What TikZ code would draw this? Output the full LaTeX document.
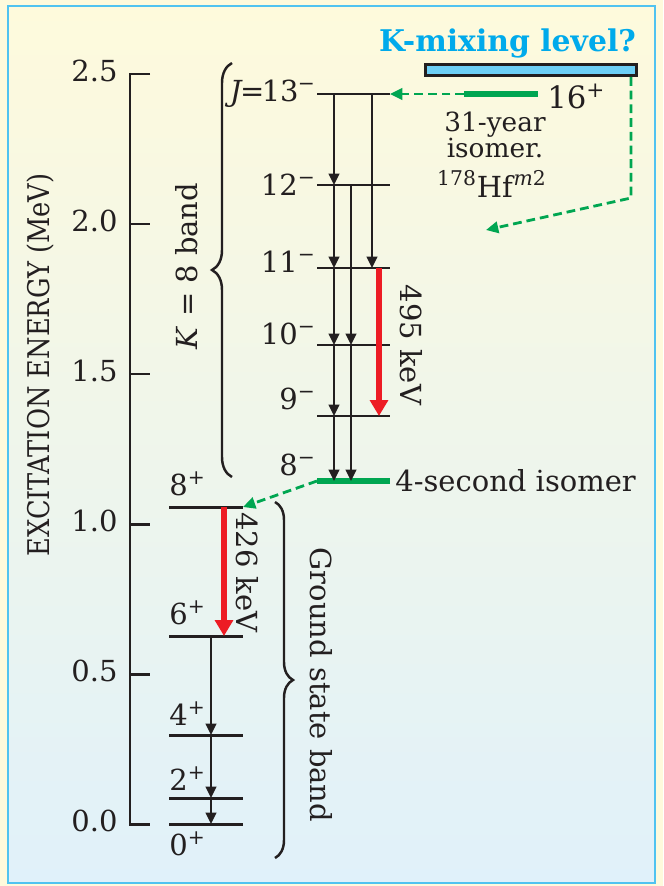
\documentclass[tikz,border=0pt]{standalone}
\usepackage{fontspec}
\usepackage{graphicx}
\setmainfont{DejaVu Serif}
\usetikzlibrary{arrows.meta,decorations.pathreplacing,calc}

\definecolor{hfink}{RGB}{35,31,32}
\definecolor{hfred}{RGB}{237,28,36}
\definecolor{hfgreen}{RGB}{0,166,81}
\definecolor{hfcyan}{RGB}{0,170,235}
\definecolor{hfbar}{RGB}{109,207,246}
\definecolor{hfframe}{RGB}{80,195,240}
\definecolor{bgtop}{RGB}{254,250,220}
\definecolor{bgbot}{RGB}{224,241,250}

\tikzset{
  lbl/.style={font=\fontsize{16.5}{19}\selectfont,inner sep=0pt,text=hfink},
  ticklbl/.style={lbl,font=\fontsize{16.5}{19}\selectfont},
  axis/.style={hfink,line width=1.7pt},
  level/.style={hfink,line width=1.7pt},
  isolevel/.style={hfgreen,line width=3.4pt},
  gam/.style={hfink,line width=1.4pt,-{Triangle[length=6.5pt,width=6pt]}},
  redgam/.style={hfred,line width=3.4pt,-{Triangle[length=9pt,width=10pt]}},
  isoarrow/.style={hfgreen,line width=1.6pt,dash pattern=on 5pt off 2.8pt,-{Triangle[length=7pt,width=6.5pt]}},
  kbar/.style={draw=hfink,fill=hfbar,line width=1.7pt,minimum width=4.22cm,minimum height=0.22cm,inner sep=0pt},
  bandbrace/.style={hfink,line width=1.4pt,decorate,decoration={brace,amplitude=#1}}
}

\begin{document}
\begin{tikzpicture}[x=0.02cm,y=-0.02cm]
  \useasboundingbox (0,0) rectangle (663,886);
  % background and frame
  \fill[bgtop] (0,0) rectangle (663,886);
  \shade[top color=bgtop,bottom color=bgbot] (8,6) rectangle (655,883);
  \draw[hfframe,line width=1.6pt] (8,6) rectangle (655,883);

  % energy axis
  \draw[axis] (150,74) -- (130,74) -- (130,824) -- (150,824);
  \foreach \e/\y [count=\i] in {0.0/824,0.5/674,1.0/524,1.5/374,2.0/224,2.5/74} {
    \draw[axis] (130,\y) -- (150,\y);
    \node[ticklbl] (tk\i) at (94.5,\y-3) {\e};
  }
  \node[lbl,font=\fontsize{17}{19}\selectfont,rotate=90] (ylab) at (40.5,365) {\scalebox{0.86}[1]{EXCITATION ENERGY (MeV)}};

  % columns of the transitions
  \coordinate (cA) at (334,0);
  \coordinate (cB) at (351,0);
  \coordinate (cC) at (372,0);
  \coordinate (cR) at (379,0);
  \coordinate (cG) at (211,0);
  \coordinate (cGR) at (224,0);

  % K = 8 band
  \foreach \j/\y in {13/94,12/185,11/268,10/345,9/416}
    \draw[level] (317,\y) coordinate (k\j) -- (390,\y) coordinate (kr\j);
  \draw[isolevel] (317,481) coordinate (k8) -- (390,481) coordinate (kr8);
  \node[lbl,anchor=east] (lk13) at (316,93.5) {\textit{J}\kern-1.5pt=\kern-1.5pt13\kern-0.5pt\textsuperscript{−}};
  \foreach \j/\y in {12/185,11/262,10/333.5,9/398.5,8/465}
    \node[lbl,anchor=east] (lk\j) at (316,\y) {\j\textsuperscript{−}};
  \node[lbl,anchor=west] (iso4s) at (395,481) {4-second isomer};

  \foreach \a/\b in {13/12,12/11,11/10,10/9,9/8}
    \draw[gam] (cA |- k\a) -- (cA |- k\b);
  \foreach \a/\b in {12/10,10/8}
    \draw[gam] (cB |- k\a) -- (cB |- k\b);
  \draw[gam] (cC |- k13) -- (cC |- k11);
  \draw[redgam] (cR |- k11) -- (cR |- k9);
  \node[lbl,rotate=-90] (e495) at (411.5,345) {495 keV};

  \draw[bandbrace=0.4cm] (232,477) -- (232,63);
  \node[lbl,rotate=90] (kband) at (186.5,266) {\textit{K} = 8 band};

  % ground state band
  \foreach \j/\y in {8/507,6/636,4/735,2/798,0/824}
    \draw[level] (169,\y) coordinate (g\j) -- (243,\y) coordinate (gr\j);
  \foreach \j/\y in {8/483.5,6/612.5,4/714,2/778.5,0/843.5}
    \node[lbl,anchor=west] (lg\j) at (169,\y) {\j\textsuperscript{+}};
  \foreach \a/\b in {6/4,4/2,2/0}
    \draw[gam] (cG |- g\a) -- (cG |- g\b);
  \draw[redgam] (cGR |- g8) -- (cGR |- g6);
  \node[lbl,rotate=-90] (e426) at (247.5,572.5) {426 keV};

  \draw[bandbrace=0.36cm] (275,502) -- (275,858);
  \node[lbl,rotate=-90] (gband) at (321.5,685) {Ground state band};

  % 31-year isomer and K-mixing level
  \node[lbl,font=\fontsize{17}{20}\selectfont\bfseries,text=hfcyan] (kmixT) at (507.5,43.5) {K-mixing level?};
  \node[kbar] (kmix) at (531,70) {};
  \draw[isolevel] (464,94) coordinate (m2) -- (538,94) coordinate (m2r);
  \node[lbl,anchor=west,font=\fontsize{17.5}{20}\selectfont] (l16) at (547,96.5) {16\textsuperscript{+}};
  \node[lbl,align=center,font=\fontsize{15}{15}\selectfont] (m2txt) at (495,135) {31-year\\isomer.};
  \node[lbl,anchor=base] (m2nuc) at (492,197) {\textsuperscript{178}Hf\textsuperscript{\kern0.5pt\textit{m}2}};

  \coordinate (kturn) at (631,198);
  \coordinate (kend) at (486,230);
  \draw[isoarrow] (kturn |- kmix.south) -- (kturn) -- (kend);
  \draw[isoarrow] (m2) -- (kr13);
  \draw[isoarrow] (k8) -- (gr8);
\end{tikzpicture}
\end{document}
